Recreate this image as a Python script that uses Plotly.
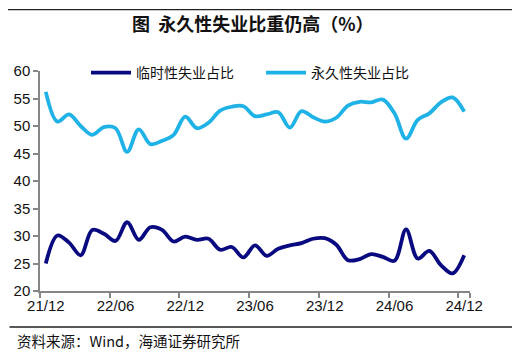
import base64
import plotly.graph_objects as go

months = ["21/12",
          "22/01", "22/02", "22/03", "22/04", "22/05", "22/06",
          "22/07", "22/08", "22/09", "22/10", "22/11", "22/12",
          "23/01", "23/02", "23/03", "23/04", "23/05", "23/06",
          "23/07", "23/08", "23/09", "23/10", "23/11", "23/12",
          "24/01", "24/02", "24/03", "24/04", "24/05", "24/06",
          "24/07", "24/08", "24/09", "24/10", "24/11", "24/12"]

temporary = [25.0, 30.1, 28.8, 26.5, 31.1, 30.4, 29.1, 32.5, 29.3, 31.6, 31.1, 29.0,
             29.9, 29.3, 29.5, 27.5, 28.0, 26.1, 28.3, 26.4, 27.7, 28.3, 28.7, 29.5,
             29.6, 28.4, 25.6, 25.8, 26.7, 26.2, 25.5, 31.2, 25.9, 27.3, 24.7, 23.2, 26.5]

permanent = [56.2, 50.8, 52.1, 50.0, 48.4, 49.8, 49.6, 45.3, 49.4, 46.7, 47.3, 48.4,
             51.7, 49.6, 50.6, 52.8, 53.5, 53.6, 51.8, 52.1, 52.5, 49.7, 52.7, 51.6,
             50.8, 51.5, 53.7, 54.4, 54.3, 54.8, 52.3, 47.7, 51.1, 52.3, 54.3, 55.2, 52.6]

tick_labels = ["21/12", "22/06", "22/12", "23/06", "23/12", "24/06", "24/12"]
y_ticks = [20, 25, 30, 35, 40, 45, 50, 55, 60]

name_temp = "临时性失业占比"
name_perm = "永久性失业占比"
title_text = "图  永久性失业比重仍高（%）"
source_text = "资料来源：Wind，海通证券研究所"

NAVY = "#0A0A80"
BLUE = "#1FB2E6"
AXIS = "#868686"
RULE = "#222222"
CJK = "Noto Sans CJK SC"
LAT = "Liberation Sans, Arial"

OFF = 8  # page body margin offset
L, T, W, H = 40 - OFF, 71 - OFF, 430, 220  # plot area in pixels


def px_x(p):
    return (p - OFF - L) / W


def px_y(p):
    return 1 - (p - OFF - T) / H


fig = go.Figure()
fig.add_trace(go.Scatter(x=months, y=temporary, name=name_temp, mode="lines",
                         line=dict(color=NAVY, width=3.8, shape="spline", smoothing=1.0)))
fig.add_trace(go.Scatter(x=months, y=permanent, name=name_perm, mode="lines",
                         line=dict(color=BLUE, width=3.8, shape="spline", smoothing=1.0)))

rule_svg = ('<svg xmlns="http://www.w3.org/2000/svg" width="10" height="10" '
            'preserveAspectRatio="none"><rect width="10" height="10" fill="%s"/></svg>' % RULE)
rule_src = "data:image/svg+xml;base64," + base64.b64encode(rule_svg.encode()).decode()

fig.update_layout(
    width=525, height=358,
    margin=dict(l=L, r=525 - L - W, t=T, b=358 - T - H, autoexpand=False),
    paper_bgcolor="white", plot_bgcolor="white",
    showlegend=True,
    legend=dict(orientation="h", x=px_x(86), y=px_y(73), xanchor="left", yanchor="middle",
                bgcolor="rgba(0,0,0,0)", font=dict(family=CJK, size=14, color="#111111"),
                entrywidth=120, entrywidthmode="pixels", itemwidth=40, traceorder="normal"),
    xaxis=dict(type="category", range=[-0.5, 36.5], tickvals=tick_labels, ticktext=tick_labels,
               tickson="boundaries", ticks="outside", ticklen=5, tickcolor=AXIS, tickwidth=1.5,
               tickangle=0, automargin=False,
               showline=True, linecolor=AXIS, linewidth=1.5, showgrid=False, zeroline=False,
               tickfont=dict(family=LAT, size=15, color="#111111")),
    yaxis=dict(range=[20, 60], tickvals=y_ticks, ticks="outside", ticklen=5, tickcolor=AXIS,
               tickwidth=1.5, showline=True, linecolor=AXIS, linewidth=1.5, showgrid=False,
               zeroline=False, automargin=False, tickfont=dict(family=LAT, size=15, color="#111111")),
    font=dict(family=CJK),
    images=[dict(source=rule_src, xref="paper", yref="paper", x=px_x(3), y=px_y(OFF + 1),
                 sizex=509 / W, sizey=1.5 / H, xanchor="left", yanchor="top",
                 sizing="stretch", layer="above")],
)

fig.add_annotation(text="<b>" + title_text + "</b>", xref="paper", yref="paper",
                   x=px_x(253), y=px_y(23), xanchor="center", yanchor="middle",
                   showarrow=False, font=dict(family=CJK, size=18, color="#111111"))
fig.add_annotation(text=source_text, xref="paper", yref="paper",
                   x=px_x(15), y=px_y(340), xanchor="left", yanchor="middle",
                   showarrow=False, font=dict(family=CJK, size=14.5, color="#111111"))

# rule above the source line
fig.add_annotation(text="", xref="paper", yref="paper", x=px_x(512), y=px_y(327),
                   ax=-(512 - 3), ay=0, axref="pixel", ayref="pixel",
                   showarrow=True, arrowhead=0, arrowwidth=1.5, arrowcolor=RULE,
                   standoff=0, startstandoff=0)

fig.write_html("out.html")
